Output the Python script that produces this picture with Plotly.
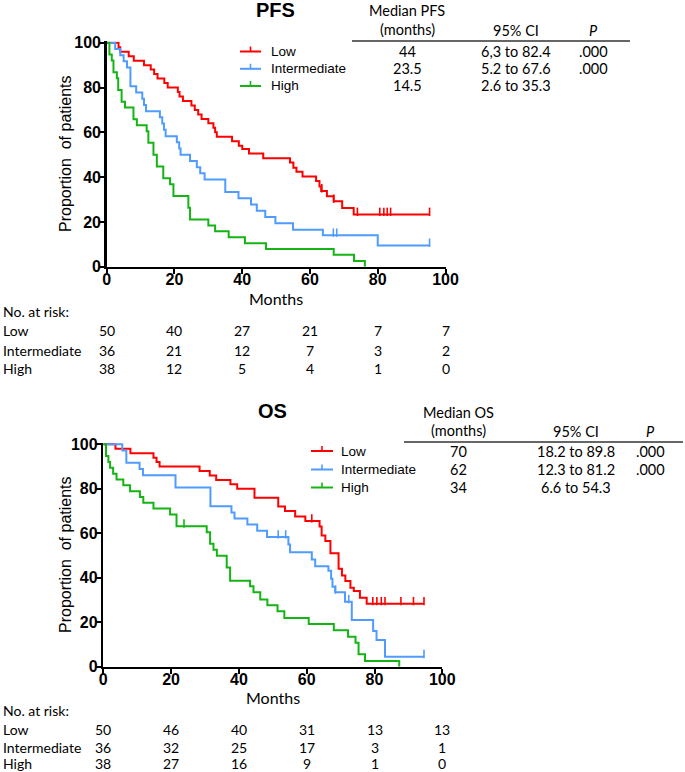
import numpy as np
import plotly.graph_objects as go

W, H = 685, 772

# ---------------- data ----------------
groups = ["Low", "Intermediate", "High"]
colors = ["#FF0000", "#4F9BFF", "#14B414"]

# PFS step curves (months, % progression-free)
pfs_low_t = [0, 3.5, 4, 6.5, 8, 11, 13, 14, 15, 17, 18, 21, 21.5, 22.5, 25, 26, 27, 28, 30, 31.5,
             32, 32.5, 37, 39, 40, 42, 46.2, 54.1, 55.1, 56, 57.8, 61.8, 62.8, 63.3, 65, 67, 69.5, 72.9, 95.3]
pfs_low_s = [100, 98, 96, 94, 92, 90, 88, 86, 84, 82, 80, 78, 76, 74, 72, 70, 68, 66, 64, 62,
             60, 58, 56, 54, 52.5, 50.5, 48.4, 46.5, 44.2, 42.4, 40.3, 38.3, 35.8, 33.8, 31.5, 29.2, 26.2, 23.3, 23.3]
pfs_low_c = [63.5, 67, 74, 80.6, 81.8, 82.8, 83.8, 95.3]

pfs_int_t = [0, 2.5, 4, 5, 6, 7, 8.7, 10.5, 11, 11.6, 15.7, 16.4, 16.9, 17.4, 20.7, 21.4, 21.8, 24.6,
             26.6, 27.6, 28.9, 35, 38.9, 42.6, 44.3, 46.8, 49.8, 55, 63.8, 80, 95.3]
pfs_int_s = [100, 97.2, 94.4, 91.7, 88.9, 80.6, 77.8, 75, 72.2, 69.4, 66.7, 63.9, 61.1, 58.3, 55.6, 52.8, 50, 47.2,
             44.4, 41.7, 38.9, 33.3, 30.6, 27.8, 25, 22.2, 19.4, 16.5, 14, 9.5, 9.5]
pfs_int_c = [66.9, 67.9, 95.3]

pfs_high_t = [0, 0.8, 1.5, 2, 3, 3.4, 4.4, 5.4, 7.9, 8.9, 11.8, 12.3, 13.8, 14.8, 16.7, 18.7, 19.7, 24.1,
              24.6, 30, 32, 36, 40.8, 47, 67, 73, 76.2]
pfs_high_s = [100, 94.7, 92.1, 86.8, 84.2, 78.9, 73.7, 71.1, 65.8, 63.2, 60.5, 55.3, 50, 44.7, 39.5, 36.8, 31.6, 26.3,
              21.1, 18.4, 15.8, 13.2, 10.5, 7.9, 5.3, 2.6, 0]
pfs_high_c = []

# OS step curves (months, % alive)
os_low_t = [0, 3.6, 8, 14.8, 15.7, 16.6, 28.4, 31.4, 33.3, 37.5, 39.5, 44.6, 51.6, 53.6, 56.6, 59.6, 63.8,
            64.4, 65.5, 67, 69.4, 70.4, 71.4, 72.9, 73.9, 75.7, 77.7, 94.6]
os_low_s = [100, 98, 96, 94, 92, 90, 88, 86, 84, 82, 80, 76, 72, 70, 67.5, 65.5, 63,
            59, 56.5, 51, 44, 41, 38.5, 35.5, 34, 31, 28.3, 28.3]
os_low_c = [61.5, 79.5, 80.7, 82, 83.1, 87.8, 91.5, 94.6]

os_int_t = [0, 5.6, 6.8, 10.7, 11.7, 21.3, 31.6, 37.8, 38.7, 42.5, 45.4, 48.3, 54.6, 55.1, 61.5, 62.5,
            66.4, 67.2, 67.6, 68.4, 71.3, 73.3, 79.6, 80.6, 83.1, 94.6]
os_int_s = [100, 97.2, 91.7, 88.9, 86.1, 80.6, 72.2, 69.4, 66.7, 63.9, 61.1, 58.3, 55, 51.5, 48.2, 45.2,
            43.2, 39.5, 36, 33.5, 29.2, 21, 16, 12, 4.5, 4.5]
os_int_c = [51.6, 53.8, 68.5, 72.4, 94.6]

os_high_t = [0, 0.8, 1.5, 2, 2.9, 3.9, 5.9, 7.9, 10.8, 11.8, 14.8, 19.7, 21.6, 30.5, 31.5, 32.5, 33.5,
             36.4, 37.4, 43.3, 44.3, 46.3, 48.4, 51.4, 53.4, 60.6, 68, 72.2, 74.4, 75.3, 77.2, 87.3]
os_high_s = [100, 94.7, 92.1, 89.5, 86.8, 84.2, 81.6, 78.9, 76.3, 73.7, 71.1, 68.4, 63.2, 60.5, 55.3, 52.6, 49.9,
             44.6, 38.6, 36.2, 33.5, 30.2, 27.6, 24.9, 21.9, 19.2, 16.4, 13.5, 10.8, 5.6, 2.6, 0]
os_high_c = [23.8]

# Summary tables
pfs_median = ["44", "23.5", "14.5"]
pfs_ci = ["6,3 to 82.4", "5.2 to 67.6", "2.6 to 35.3"]
pfs_p = [".000", ".000", ""]
os_median = ["70", "62", "34"]
os_ci = ["18.2 to 89.8", "12.3 to 81.2", "6.6 to 54.3"]
os_p = [".000", ".000", ""]

# Numbers at risk
risk_times = [0, 20, 40, 60, 80, 100]
pfs_risk = [[50, 40, 27, 21, 7, 7], [36, 21, 12, 7, 3, 2], [38, 12, 5, 4, 1, 0]]
os_risk = [[50, 46, 40, 31, 13, 13], [36, 32, 25, 17, 3, 1], [38, 27, 16, 9, 1, 0]]

# ---------------- helpers ----------------
def px(x):
    return x / W

def py(y):
    return 1 - y / H

ARIAL = "Liberation Sans"
CALIBRI = "Lato"
TAB = 14.5

fig = go.Figure()

def level_at(t_arr, s_arr, tc):
    t_arr = np.asarray(t_arr)
    idx = np.searchsorted(t_arr, tc, side="right") - 1
    return float(s_arr[idx])

def add_curves(series, xa, ya):
    for (t, s, c), col in zip(series, colors):
        fig.add_trace(go.Scatter(x=t, y=s, mode="lines", xaxis=xa, yaxis=ya,
                                 line=dict(shape="hv", color=col, width=2), hoverinfo="skip"))
        if c:
            cy = [level_at(t, s, tc) + 1.2 for tc in c]
            fig.add_trace(go.Scatter(x=c, y=cy, mode="markers", xaxis=xa, yaxis=ya, cliponaxis=False,
                                     marker=dict(symbol="line-ns", size=6, color=col,
                                                 line=dict(width=1.6, color=col)),
                                     hoverinfo="skip"))

add_curves([(pfs_low_t, pfs_low_s, pfs_low_c), (pfs_int_t, pfs_int_s, pfs_int_c),
            (pfs_high_t, pfs_high_s, pfs_high_c)], "x", "y")
add_curves([(os_low_t, os_low_s, os_low_c), (os_int_t, os_int_s, os_int_c),
            (os_high_t, os_high_s, os_high_c)], "x2", "y2")

axis_common = dict(range=[0, 100], tickvals=[0, 20, 40, 60, 80, 100], showline=True, linecolor="black",
                   linewidth=2.5, ticks="outside", ticklen=5, tickwidth=2, tickcolor="black",
                   tickfont=dict(family=ARIAL, size=16, color="black", weight="bold"),
                   showgrid=False, zeroline=False, fixedrange=True)
xaxis_common = dict(axis_common, ticklabelstandoff=-8)
yaxis_common = dict(axis_common, ticklabelstandoff=-5)
yaxis_common["range"] = [0, 100.6]

annotations = []
shapes = []

def ann(text, x, y, size, family=CALIBRI, xanchor="center", bold=False, angle=0, xref="paper"):
    annotations.append(dict(text=text, x=x, y=py(y), xref=xref, yref="paper", xanchor=xanchor,
                            yanchor="middle", showarrow=False, textangle=angle,
                            font=dict(family=family, size=size, color="black",
                                      weight="bold" if bold else "normal")))

panels = [
    dict(xa="x", ya="y", xdom=[px(106.7), px(445.5)], ydom=[py(266.7), py(41.4)],
         title="PFS", title_xy=(275, 10), mid_y=154, months_y=298,
         leg_x=(240, 261, 269), rows=[51.5, 68.8, 86], hdr=("Median PFS", 10, 29),
         cols=(407, 516, 593), line=(352, 630, 41), med=pfs_median, ci=pfs_ci, p=pfs_p,
         risk=pfs_risk, risk_y=[311, 330, 350, 369], xname="xaxis", yname="yaxis"),
    dict(xa="x2", ya="y2", xdom=[px(103.3), px(442.3)], ydom=[py(666.7), py(443)],
         title="OS", title_xy=(272, 411), mid_y=555, months_y=697,
         leg_x=(311, 333, 339), rows=[451, 469.5, 487.5], hdr=("Median OS", 412, 430),
         cols=(458, 576, 650), line=(404, 683, 442), med=os_median, ci=os_ci, p=os_p,
         risk=os_risk, risk_y=[710, 729, 747, 763.5], xname="xaxis2", yname="yaxis2"),
]

layout_axes = {}
for pn in panels:
    xa = dict(xaxis_common, domain=pn["xdom"], anchor=pn["ya"])
    ya = dict(yaxis_common, domain=pn["ydom"], anchor=pn["xa"])
    layout_axes[pn["xname"]] = xa
    layout_axes[pn["yname"]] = ya

    ann(pn["title"], px(pn["title_xy"][0]), pn["title_xy"][1], 20, family=ARIAL, bold=True)
    ann("Proportion  of patients", px(65), pn["mid_y"], 16, family=ARIAL, angle=-90)
    ann("Months", px(sum(pn["xdom"]) / 2 * W), pn["months_y"], 16)

    # legend
    x0, x1, xt = pn["leg_x"]
    for g, col, ry in zip(groups, colors, pn["rows"]):
        shapes.append(dict(type="line", xref="paper", yref="paper", x0=px(x0), x1=px(x1),
                           y0=py(ry), y1=py(ry), line=dict(color=col, width=2)))
        xm = (x0 + x1) / 2
        shapes.append(dict(type="line", xref="paper", yref="paper", x0=px(xm), x1=px(xm),
                           y0=py(ry), y1=py(ry - 5), line=dict(color=col, width=1.6)))
        ann(g, px(xt), ry, 13.5, family=ARIAL, xanchor="left")

    # summary table
    h1, hy1, hy2 = pn["hdr"]
    cm, cc, cp = pn["cols"]
    ann(h1, px(cm), hy1, TAB)
    ann("(months)", px(cm), hy2, TAB)
    ann("95% CI", px(cc), hy2 + 1, TAB)
    ann("<i>P</i>", px(cp), hy2 + 1, TAB)
    lx0, lx1, ly = pn["line"]
    shapes.append(dict(type="line", xref="paper", yref="paper", x0=px(lx0), x1=px(lx1),
                       y0=py(ly), y1=py(ly), line=dict(color="#333333", width=1.5)))
    for ry, m, c, p in zip(pn["rows"], pn["med"], pn["ci"], pn["p"]):
        ann(m, px(cm), ry, TAB)
        ann(c, px(cc), ry, TAB)
        if p:
            ann(p, px(cp), ry, TAB)

    # numbers at risk
    ry0 = pn["risk_y"]
    ann("No. at risk:", 0.002, ry0[0], 14, xanchor="left")
    for g, counts, ry in zip(groups, pn["risk"], ry0[1:]):
        ann(g, 0.002, ry, 14, xanchor="left")
        for t, n in zip(risk_times, counts):
            ann(str(n), t, ry, 14, xref=pn["xa"])

fig.update_layout(width=W, height=H, margin=dict(l=0, r=0, t=0, b=0, autoexpand=False),
                  plot_bgcolor="white", paper_bgcolor="white", showlegend=False,
                  annotations=annotations, shapes=shapes, **layout_axes)

fig.write_html("out.html", config={"displayModeBar": False, "staticPlot": True},
               post_script="document.body.style.margin='0';document.body.style.overflow='hidden';")
